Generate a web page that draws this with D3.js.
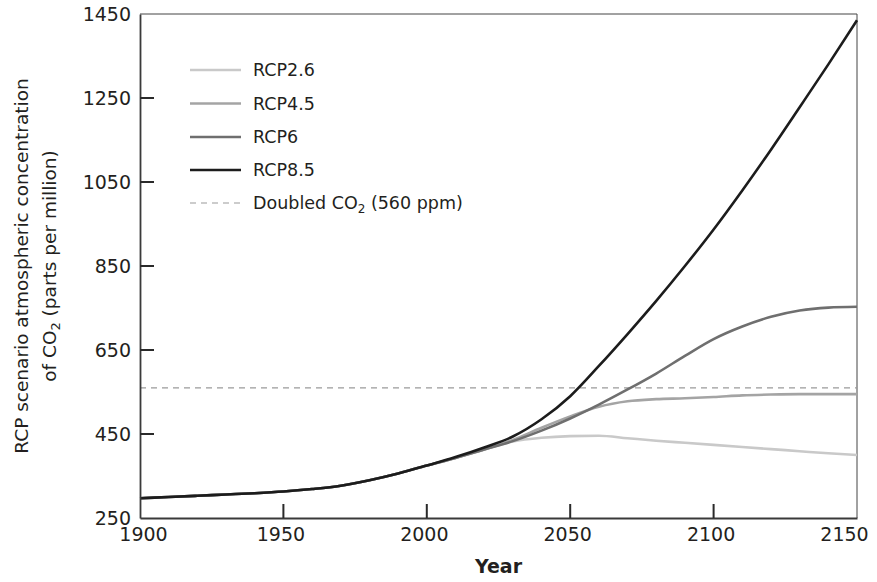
<!DOCTYPE html>
<html>
<head>
<meta charset="utf-8">
<script src="https://cdn.jsdelivr.net/npm/d3@7"></script>
<style>
  body { margin: 0; background: #fff; }
  text { font-family: "DejaVu Sans", sans-serif; fill: #231f20; }
  .tick text { font-size: 19px; }
  .legend text { font-size: 17.5px; }
</style>
</head>
<body>
<svg width="877" height="582"></svg>
<script>
// years and ppm values
var years = [1900, 1910, 1920, 1930, 1940, 1950, 1960, 1970, 1980, 1990, 2000, 2010, 2020, 2030, 2040, 2050, 2060, 2070, 2080, 2090, 2100, 2110, 2120, 2130, 2140, 2150];
var rcp26 = [297, 300, 303, 306, 309, 313, 319, 327, 340, 356, 375, 393, 413, 432, 441, 445, 446, 440, 434, 429, 424, 419, 414, 409, 404, 400];
var rcp45 = [297, 300, 303, 306, 309, 313, 319, 327, 340, 356, 375, 393, 413, 436, 465, 492, 515, 528, 533, 535, 538, 542, 544, 545, 545, 545];
var rcp6  = [297, 300, 303, 306, 309, 313, 319, 327, 340, 356, 375, 393, 413, 433, 458, 487, 520, 556, 594, 636, 676, 706, 729, 744, 751, 753];
var rcp85 = [297, 300, 303, 306, 309, 313, 319, 327, 340, 356, 375, 395, 418, 444, 485, 540, 612, 688, 767, 850, 937, 1030, 1127, 1228, 1330, 1435];
var seriesNames = ["RCP2.6", "RCP4.5", "RCP6", "RCP8.5"];
var seriesColors = ["#c9c9c9", "#a4a4a4", "#6f6f6f", "#1c1c1c"];
var doubled = 560;
var xTicks = [1900, 1950, 2000, 2050, 2100, 2150];
var yTicks = [250, 450, 650, 850, 1050, 1250, 1450];

const plot = {left: 140, right: 857, top: 14, bottom: 518};
const tickLen = 14;

var svg = d3.select("svg");

var x = d3.scaleLinear().domain([1900, 2150]).range([plot.left, plot.right]);
var y = d3.scaleLinear().domain([250, 1450]).range([plot.bottom, plot.top]);

var allSeries = [rcp26, rcp45, rcp6, rcp85];

// frame on top and right
svg.append("path")
  .attr("d", "M" + plot.left + "," + plot.top + "H" + plot.right + "V" + plot.bottom)
  .attr("fill", "none").attr("stroke", "#444").attr("stroke-width", 1);

// doubled CO2 line
svg.append("line")
  .attr("x1", x(1900)).attr("x2", x(2150))
  .attr("y1", y(doubled)).attr("y2", y(doubled))
  .attr("stroke", "#9a9a9a").attr("stroke-width", 1.2)
  .attr("stroke-dasharray", "6,5");

var line = d3.line()
  .x((d, i) => x(years[i]))
  .y((d) => y(d))
  .curve(d3.curveMonotoneX);

svg.selectAll("path.series")
  .data(allSeries)
  .enter()
  .append("path")
    .attr("class", "series")
    .attr("d", (d) => line(d))
    .attr("fill", "none")
    .attr("stroke", (d, i) => seriesColors[i])
    .attr("stroke-width", 2.6);

// axes (labels only)
var xAxis = svg.append("g")
  .attr("transform", "translate(0," + plot.bottom + ")")
  .call(d3.axisBottom(x).tickValues(xTicks).tickFormat(d3.format("d")).tickSize(0).tickPadding(10));
xAxis.selectAll(".tick text").attr("dx", (d) => d == 2150 ? -13 : (d == 1900 ? 3 : -3));

var yAxis = svg.append("g")
  .attr("transform", "translate(" + plot.left + ",0)")
  .call(d3.axisLeft(y).tickValues(yTicks).tickFormat(d3.format("d")).tickSize(0).tickPadding(9));

svg.selectAll(".domain").attr("stroke", "#3a3a3a").attr("stroke-width", 1.8);
svg.selectAll(".tick text").attr("fill", "#231f20");

// inward tick marks as paths
var tickPath = "";
xTicks.slice(1, -1).forEach((d) => {
  tickPath += "M" + x(d) + "," + plot.bottom + "v" + (-tickLen);
});
yTicks.slice(1, -1).forEach((d) => {
  tickPath += "M" + plot.left + "," + y(d) + "h" + tickLen;
});
svg.append("path")
  .attr("d", tickPath)
  .attr("fill", "none")
  .attr("stroke", "#2a2a2a")
  .attr("stroke-width", 2);

// axis titles
svg.append("text")
  .attr("x", (plot.left + plot.right) / 2)
  .attr("y", 573)
  .attr("text-anchor", "middle")
  .style("font-size", "19px")
  .style("font-weight", "bold")
  .text("Year");

var midY = (plot.top + plot.bottom) / 2;
var yt = svg.append("text")
  .attr("transform", "translate(22," + midY + ") rotate(-90)")
  .attr("text-anchor", "middle")
  .style("font-size", "18.5px");
yt.append("tspan").attr("dy", "0.35em").text("RCP scenario atmospheric concentration");
var yt2 = svg.append("text")
  .attr("transform", "translate(50," + midY + ") rotate(-90)")
  .attr("text-anchor", "middle")
  .style("font-size", "18.5px");
yt2.append("tspan").attr("dy", "0.35em").text("of CO");
yt2.append("tspan").attr("dy", "4").style("font-size", "13px").text("2");
yt2.append("tspan").attr("dy", "-4").text(" (parts per million)");

// legend
var legend = svg.append("g").attr("class", "legend");
var rowY = [70, 103.5, 137, 170, 203];

seriesNames.forEach((name, i) => {
  legend.append("line")
    .attr("x1", 190).attr("x2", 241)
    .attr("y1", rowY[i]).attr("y2", rowY[i])
    .attr("stroke", seriesColors[i]).attr("stroke-width", 2.6);
  legend.append("text")
    .attr("x", 253).attr("y", rowY[i]).attr("dy", "0.35em")
    .text(name);
});

legend.append("line")
  .attr("x1", 190).attr("x2", 241)
  .attr("y1", rowY[4]).attr("y2", rowY[4])
  .attr("stroke", "#9a9a9a").attr("stroke-width", 1.2)
  .attr("stroke-dasharray", "6,5");
var dl = legend.append("text").attr("x", 253).attr("y", rowY[4]).attr("dy", "0.35em");
dl.append("tspan").text("Doubled CO");
dl.append("tspan").attr("dy", "4").style("font-size", "12px").text("2");
dl.append("tspan").attr("dy", "-4").text(" (560 ppm)");
</script>
</body>
</html>
